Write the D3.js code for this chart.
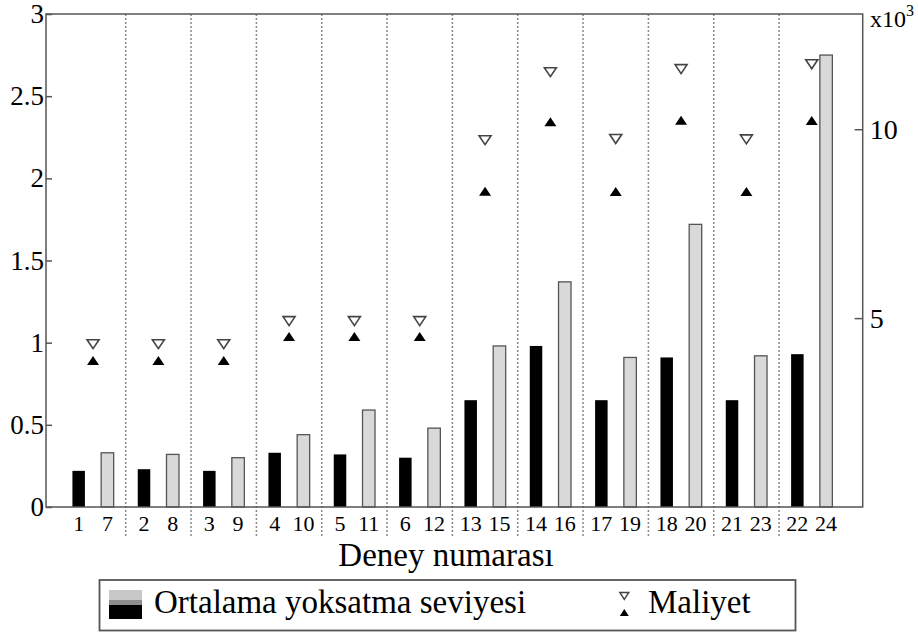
<!doctype html>
<html lang="tr">
<head>
  <meta charset="UTF-8" />
  <script src="https://cdn.jsdelivr.net/npm/d3@7"></script>
  <style>
    body { margin: 0; background: #fff; }
    text { font-family: "Liberation Serif", "Times New Roman", Tinos, "Nimbus Roman", "Nimbus Roman No9 L", FreeSerif, "DejaVu Serif", "Noto Serif", serif; fill: #000; }
    .axis path, .axis line { stroke: #555; stroke-width: 1.5; }
    .sep { stroke: #888; stroke-width: 1.5; stroke-dasharray: 2,2; }
  </style>
  <title>Deney numarası</title>
</head>
<body>
  <script>
    // data
    var groups = [1, 2, 3, 4, 5, 6, 7, 8, 9, 10, 11, 12];
    var blackLabels = ["1", "2", "3", "4", "5", "6", "13", "14", "17", "18", "21", "22"];
    var grayLabels = ["7", "8", "9", "10", "11", "12", "15", "16", "19", "20", "23", "24"];
    var blackVals = [0.22, 0.23, 0.22, 0.33, 0.32, 0.30, 0.65, 0.98, 0.65, 0.91, 0.65, 0.93];
    var grayVals = [0.33, 0.32, 0.30, 0.44, 0.59, 0.48, 0.98, 1.37, 0.91, 1.72, 0.92, 2.75];
    var costHigh = [4.31, 4.31, 4.31, 4.92, 4.92, 4.92, 9.71, 11.51, 9.74, 11.59, 9.73, 11.72];
    var costLow = [3.88, 3.88, 3.88, 4.51, 4.51, 4.51, 8.36, 10.20, 8.35, 10.24, 8.35, 10.23];
    var leftTicks = [0, 0.5, 1, 1.5, 2, 2.5, 3];
    var rightTicks = [5, 10];

    var W = 918, H = 635;
    var L = 46, R = 862.7, T = 14, B = 507;
    var barW = 12.5;

    var svg = d3.select("body").append("svg").attr("width", W).attr("height", H);

    var x = d3.scaleLinear().domain([0.5, 13]).range([L, R]);
    var y = d3.scaleLinear().domain([0, 3]).range([B, T]);
    var y2 = d3.scaleLinear().domain([0, 13.05]).range([B, T]);

    // dotted separators
    svg.append("g").selectAll("line")
      .data(groups.slice(0, -1))
      .enter().append("line")
      .attr("class", "sep")
      .attr("x1", function (d) { return x(d + 0.72); })
      .attr("x2", function (d) { return x(d + 0.72); })
      .attr("y1", T).attr("y2", 536);

    // bars
    svg.append("g").selectAll("rect")
      .data(groups)
      .enter().append("rect")
      .attr("x", function (d, i) { return x(d) - barW / 2; })
      .attr("y", function (d, i) { return y(blackVals[i]); })
      .attr("width", barW)
      .attr("height", function (d, i) { return B - y(blackVals[i]); })
      .attr("fill", "#000");

    svg.append("g").selectAll("rect")
      .data(groups)
      .enter().append("rect")
      .attr("x", function (d, i) { return x(d + 0.44) - barW / 2; })
      .attr("y", function (d, i) { return y(grayVals[i]); })
      .attr("width", barW)
      .attr("height", function (d, i) { return B - y(grayVals[i]); })
      .attr("fill", "#d9d9d9").attr("stroke", "#555").attr("stroke-width", 1.3);

    // cost markers
    var triDown = "M-6,-4.5 L6,-4.5 L0,4.5 Z";
    var triUp = "M-6,4.5 L6,4.5 L0,-4.5 Z";
    svg.append("g").selectAll("path")
      .data(groups)
      .enter().append("path")
      .attr("d", triDown)
      .attr("transform", function (d, i) { return "translate(" + x(d + 0.22) + "," + y2(costHigh[i]) + ")"; })
      .attr("fill", "#fff").attr("stroke", "#444").attr("stroke-width", 1.6);
    svg.append("g").selectAll("path")
      .data(groups)
      .enter().append("path")
      .attr("d", triUp)
      .attr("transform", function (d, i) { return "translate(" + x(d + 0.22) + "," + y2(costLow[i]) + ")"; })
      .attr("fill", "#000");

    // frame
    svg.append("rect")
      .attr("x", L).attr("y", T).attr("width", R - L).attr("height", B - T)
      .attr("fill", "none").attr("stroke", "#555").attr("stroke-width", 1.5);

    // axes
    var yAxis = d3.axisLeft(y).tickValues(leftTicks).tickSize(-6).tickSizeOuter(0).tickPadding(2)
      .tickFormat(function (d) { return String(d); });
    var gy = svg.append("g").attr("class", "axis").attr("transform", "translate(" + L + ",0)").call(yAxis);
    gy.attr("font-family", null);
    gy.selectAll("text").style("font-size", "27px");
    gy.select(".domain").remove();

    var y2Axis = d3.axisRight(y2).tickValues(rightTicks).tickSize(-8).tickSizeOuter(0).tickPadding(7)
      .tickFormat(function (d) { return String(d); });
    var gy2 = svg.append("g").attr("class", "axis").attr("transform", "translate(" + R + ",0)").call(y2Axis);
    gy2.attr("font-family", null);
    gy2.selectAll("text").style("font-size", "28px");
    gy2.select(".domain").remove();

    var ex = svg.append("text").attr("x", 870).attr("y", 27).style("font-size", "24px");
    ex.append("tspan").text("x10");
    ex.append("tspan").attr("dy", -11).style("font-size", "16px").text("3");

    // x tick labels
    var xl = svg.append("g").style("font-size", "22px").attr("text-anchor", "middle");
    xl.selectAll("text.b").data(groups).enter().append("text").attr("class", "b")
      .attr("x", function (d) { return x(d); }).attr("y", 531)
      .text(function (d, i) { return blackLabels[i]; });
    xl.selectAll("text.g").data(groups).enter().append("text").attr("class", "g")
      .attr("x", function (d) { return x(d + 0.44); }).attr("y", 531)
      .text(function (d, i) { return grayLabels[i]; });

    svg.append("text").attr("x", 446).attr("y", 566).attr("text-anchor", "middle")
      .style("font-size", "33px").text("Deney numarası");

    // legend
    var lg = svg.append("g");
    lg.append("rect").attr("x", 99.5).attr("y", 580).attr("width", 696).attr("height", 50.5)
      .attr("fill", "#fff").attr("stroke", "#555").attr("stroke-width", 1.8);
    lg.append("rect").attr("x", 109).attr("y", 590).attr("width", 33).attr("height", 10).attr("fill", "#c8c8c8");
    lg.append("rect").attr("x", 109).attr("y", 600).attr("width", 33).attr("height", 5).attr("fill", "#8c8c8c");
    lg.append("rect").attr("x", 109).attr("y", 605).attr("width", 33).attr("height", 14).attr("fill", "#000");
    lg.append("text").attr("x", 154).attr("y", 613).style("font-size", "33px").text("Ortalama yoksatma seviyesi");
    lg.append("path").attr("d", "M-4.5,-3.5 L4.5,-3.5 L0,3.5 Z").attr("transform", "translate(624.3,596)")
      .attr("fill", "#fff").attr("stroke", "#444").attr("stroke-width", 1.4);
    lg.append("path").attr("d", "M-4.5,3.5 L4.5,3.5 L0,-3.5 Z").attr("transform", "translate(624.3,612.5)")
      .attr("fill", "#000");
    lg.append("text").attr("x", 648).attr("y", 613).style("font-size", "33px").text("Maliyet");
  </script>
</body>
</html>
